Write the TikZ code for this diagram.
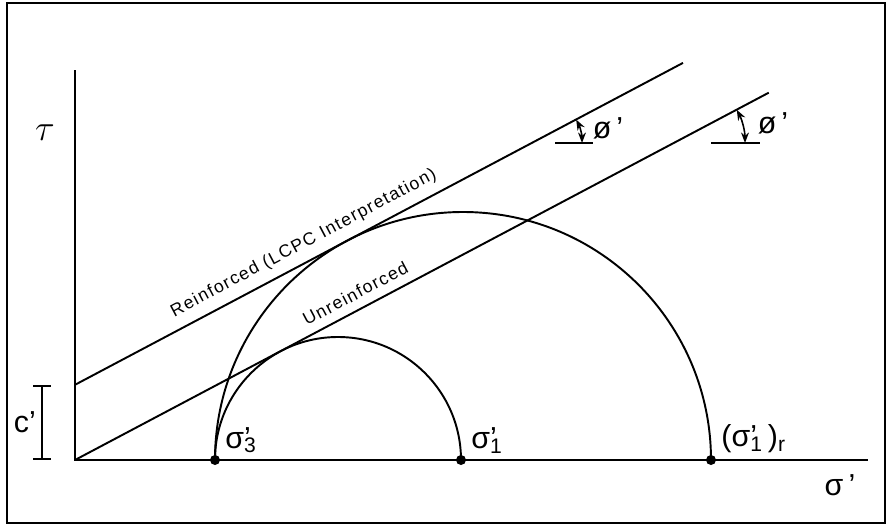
\documentclass[tikz,border=0pt]{standalone}
\usepackage{fontspec}
\setmainfont{Liberation Sans}
\newfontfamily\lblfont[LetterSpace=8]{Liberation Sans}
\usepackage{tikz}
\usetikzlibrary{positioning,calc,arrows.meta}
\newcommand{\sgm}[1]{σ\rlap{'}\textsubscript{#1}}

\begin{document}
\begin{tikzpicture}[x=0.02cm, y=0.02cm, line width=1.1pt,
  symb/.style={font=\LARGE, inner sep=1pt},
  lbl/.style={font=\lblfont\normalsize, sloped, above, inner sep=5pt},
  dot/.style={circle, fill=black, inner sep=0pt, minimum size=0.2cm},
  angarr/.style={{Stealth[length=6pt]}-{Stealth[length=6pt]}, line width=0.9pt}]
  % Frame
  \useasboundingbox (-75,-69) rectangle (815,460);
  \draw[line width=1.6pt] (-68,-63) rectangle (810,457);

  % Axes
  \coordinate (O) at (0,0);
  \coordinate (ytop) at (0,390);
  \coordinate (xend) at (793,0);
  \draw (ytop) -- (O) -- (xend);
  \node[symb, font=\huge] (tau) at (-30,327) {$\tau$};
  \node[symb] (sig) at (765,-25) {σ\,'};

  % Failure envelopes
  \def\phiang{27.9}
  \coordinate (cR) at (0,75.2);
  \coordinate (R2) at ($(cR)+(\phiang:688)$);
  \coordinate (U2) at (\phiang:785);
  \draw (cR) -- node[lbl, pos=0.39] {Reinforced (LCPC Interpretation)} (R2);
  \draw (O) -- node[lbl, pos=0.415] {Unreinforced} (U2);

  % Mohr circles
  \draw (140,0) arc[start angle=180, end angle=0, radius=123];
  \draw (140,0) arc[start angle=180, end angle=0, radius=248];

  % Stress points
  \node[dot] (s3) at (140,0) {};
  \node[dot] (s1) at (386,0) {};
  \node[dot] (s1r) at (636,0) {};
  \node[symb, above right=0pt and 2pt of s3] (s3lbl) {\sgm{3}};
  \node[symb, above right=0pt and 2pt of s1] (s1lbl) {\sgm{1}};
  \node[symb, above right=0pt and 2pt of s1r] (s1rlbl) {(\sgm{1}\,)\textsubscript{r}};

  % Cohesion intercept
  \coordinate (c0) at (-33,0);
  \coordinate (c1) at (-33,75.2);
  \draw[{Bar[width=0.35cm]}-{Bar[width=0.35cm]}] (c0) -- (c1);
  \node[symb, left=2pt of $(c0)!0.5!(c1)$] (clbl) {c'};

  % Friction angles
  \coordinate (v1) at (457,317);
  \coordinate (v2) at (599,317);
  \draw ($(v1)+(23,0)$) -- ($(v1)+(61,0)$);
  \draw[angarr] ($(v1)+(50,0)$) arc[start angle=0, end angle=\phiang, radius=50];
  \node[symb] (phi1) at ($(v1)+(76,15)$) {ø\,'};
  \draw ($(v2)+(37,0)$) -- ($(v2)+(86,0)$);
  \draw[angarr] ($(v2)+(71,0)$) arc[start angle=0, end angle=\phiang, radius=71];
  \node[symb] (phi2) at ($(v2)+(99,20)$) {ø\,'};
\end{tikzpicture}
\end{document}
